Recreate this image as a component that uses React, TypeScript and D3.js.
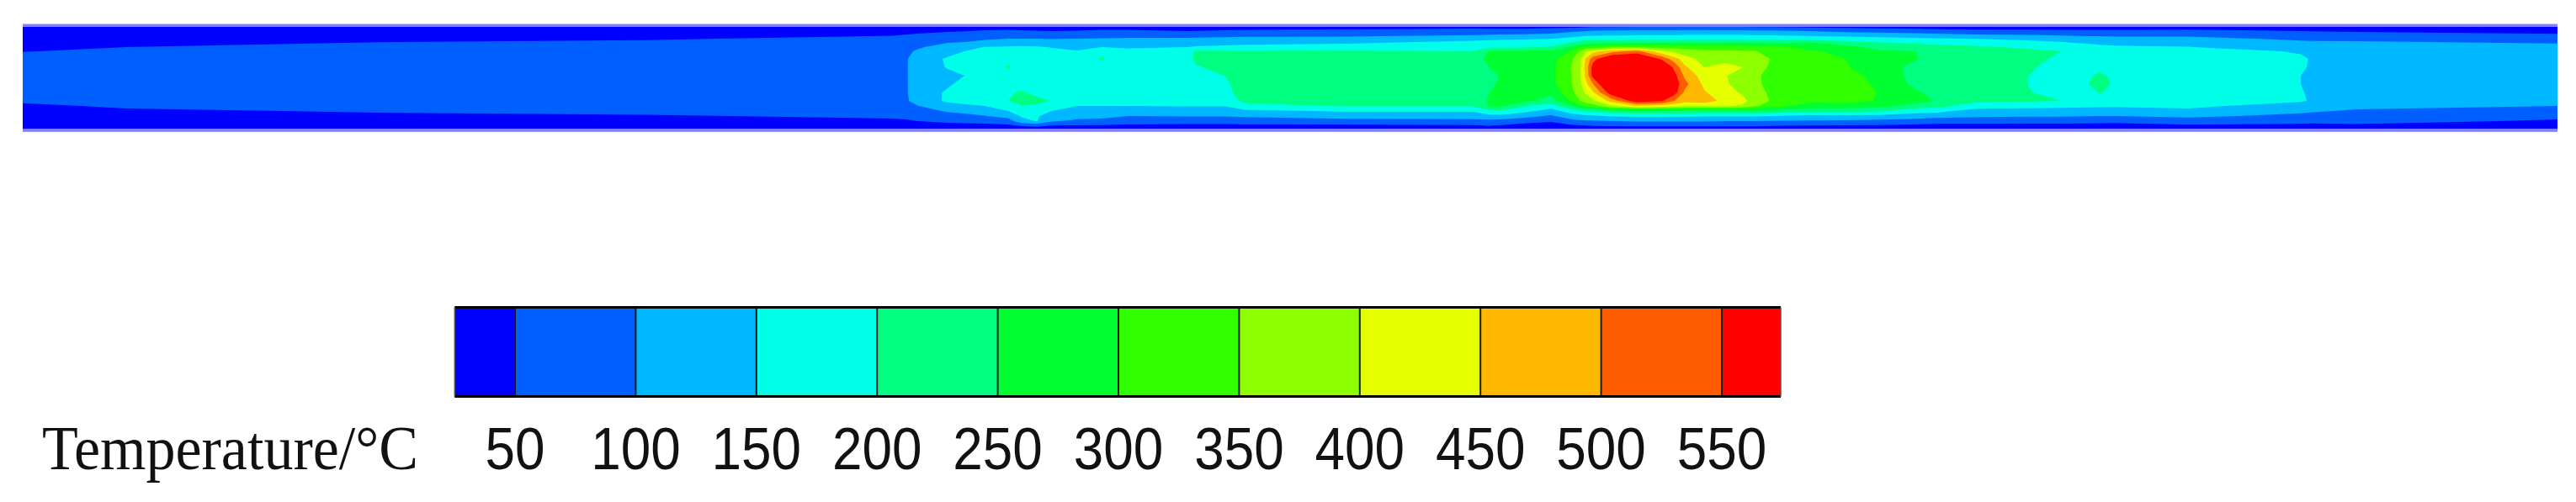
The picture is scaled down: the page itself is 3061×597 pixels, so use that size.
import React from "react";
import * as d3 from "d3";

const WIDTH = 3061;
const HEIGHT = 597;

const legendTitle = "Temperature/°C";
const levels = [50, 100, 150, 200, 250, 300, 350, 400, 450, 500, 550];
const bandColors = ["#0000ff", "#0060ff", "#00b8ff", "#00ffe8", "#00ff80", "#00ff30", "#30ff00", "#8cff00", "#e6ff00", "#ffb800", "#ff5c00", "#ff0000"];

// Axial stations (px along the pipe picture) and radial rows (px)
const stations = [27,150,450,770,1060,1078,1090,1126,1146,1170,1198,1214,1232,1250,1280,1309,1340,1412,1420,1456,1480,1600,1750,1770,1785,1810,1843,1868,1878,1885,1893,1915,1945,1975,1990,2002,2025,2050,2070,2085,2105,2150,2196,2233,2277,2301,2350,2409,2450,2480,2495,2514,2600,2734,2748,2800,3039];
const rows = [32,36,41,46,51,56,61,70,80,90,100,110,120,126,132,138,144,149,153];

// Temperature at each station, top wall to bottom wall
const temperatureColumns = [
  [15,18,22,26,30,38,48,75,75,75,75,75,58,40,30,25,20,18,15],
  [15,18,24,30,38,50,62,75,75,75,75,75,70,58,42,32,25,20,15],
  [15,20,28,38,52,62,70,75,75,75,75,75,75,70,55,40,30,22,15],
  [15,22,32,46,58,66,72,78,78,78,78,78,78,72,62,46,34,24,15],
  [18,28,46,60,72,78,85,90,92,92,92,88,82,76,68,58,42,28,15],
  [20,32,50,64,76,85,92,98,98,98,98,98,96,85,72,60,46,30,16],
  [22,36,54,68,82,92,106,125,130,130,130,128,118,98,80,64,50,32,17],
  [25,44,60,78,100,125,135,155,152,142,145,155,158,130,105,82,58,38,18],
  [28,46,62,82,105,128,150,160,165,150,160,165,168,140,112,88,60,40,20],
  [30,50,66,92,118,152,165,175,178,178,178,178,172,150,122,98,62,42,22],
  [32,52,70,100,125,155,170,185,205,180,185,195,200,185,150,118,75,44,24],
  [30,50,72,100,125,158,172,178,178,178,180,205,215,198,172,155,135,60,24],
  [28,48,70,100,125,155,170,176,178,178,178,190,210,195,172,155,152,70,24],
  [26,46,68,98,122,148,158,172,176,176,176,178,198,170,150,128,105,52,22],
  [26,48,72,100,125,142,152,175,178,178,178,178,172,150,130,118,90,50,20],
  [35,52,78,102,128,150,185,205,178,178,178,178,170,150,128,112,88,48,20],
  [32,52,78,105,130,148,155,178,178,178,178,178,172,150,125,100,72,44,20],
  [28,45,72,108,130,150,175,190,185,180,178,178,172,152,128,102,70,42,20],
  [28,46,74,108,132,154,204,206,196,180,178,178,172,152,128,102,70,42,20],
  [30,50,80,112,135,160,206,225,212,201,192,185,178,152,128,102,70,42,20],
  [32,52,82,115,138,165,205,225,225,225,225,225,210,185,140,108,72,44,20],
  [34,56,85,115,145,172,205,225,225,225,225,225,225,205,155,125,80,45,25],
  [38,62,95,135,165,185,201,225,240,240,240,235,215,205,155,125,85,48,25],
  [36,60,98,140,170,190,255,265,250,238,240,250,258,255,190,135,85,52,40],
  [36,60,100,142,172,192,258,275,270,255,260,270,275,258,192,135,80,48,35],
  [36,62,102,145,172,195,258,275,275,275,275,270,262,205,165,118,70,35,20],
  [38,70,108,148,178,205,262,280,285,285,285,260,230,175,130,92,55,28,15],
  [40,85,125,165,205,262,305,345,355,352,350,340,310,250,175,130,85,45,20],
  [42,90,132,172,222,300,360,395,400,400,395,380,350,290,190,135,90,50,22],
  [45,92,135,178,230,310,395,460,475,470,440,410,370,320,200,140,92,52,24],
  [46,95,138,180,235,320,430,530,575,570,500,445,390,330,205,142,95,55,25],
  [48,98,140,182,240,340,480,620,660,660,650,585,470,395,230,155,100,58,26],
  [50,100,142,185,248,345,520,630,690,690,690,670,585,450,240,160,105,60,28],
  [50,100,142,185,250,335,410,540,620,660,655,630,555,430,240,160,105,60,28],
  [50,100,142,185,250,330,385,470,535,565,580,570,500,420,240,160,105,60,30],
  [52,102,145,188,252,330,370,425,460,490,515,490,465,410,238,158,105,60,30],
  [52,102,145,188,250,325,360,380,400,425,440,455,475,405,235,155,105,60,30],
  [50,100,145,188,250,325,358,385,415,402,405,418,435,405,235,155,100,58,30],
  [50,100,145,186,250,322,355,385,401,385,385,395,415,395,235,155,100,58,30],
  [48,98,142,185,248,318,352,375,378,365,365,372,380,360,235,155,100,58,30],
  [48,98,142,185,245,315,340,348,340,325,330,340,345,320,235,150,98,55,30],
  [40,90,135,178,255,285,305,325,325,325,325,325,310,280,215,135,95,52,30],
  [36,78,128,170,225,265,290,298,302,320,325,325,315,280,215,135,92,50,28],
  [32,72,125,165,205,235,255,275,270,280,290,298,296,265,205,135,85,48,28],
  [30,65,115,158,195,220,250,252,238,235,238,256,262,232,170,125,78,42,26],
  [30,60,110,155,190,215,230,232,228,228,228,235,248,215,165,118,72,38,24],
  [28,55,100,148,178,208,225,225,225,225,225,225,208,175,128,108,70,40,22],
  [28,55,95,140,165,190,215,215,208,201,200,204,206,170,125,105,68,38,20],
  [27,54,90,130,155,175,200,190,178,175,175,178,200,165,125,105,68,38,20],
  [26,54,85,125,145,168,172,175,175,190,198,180,200,162,122,102,66,36,20],
  [26,54,85,122,142,160,170,175,180,212,215,204,178,160,122,100,64,35,20],
  [26,54,82,118,140,155,170,175,175,185,192,180,175,158,122,100,62,35,20],
  [25,55,85,115,138,151,175,178,178,178,178,178,175,160,140,108,80,45,20],
  [22,45,68,90,112,128,145,158,155,150,150,152,155,130,108,90,70,40,18],
  [22,45,66,90,108,122,135,145,145,145,145,145,145,125,105,85,65,38,18],
  [20,42,62,92,105,120,125,125,125,125,125,125,125,110,95,75,62,45,18],
  [20,38,52,78,98,110,125,125,125,125,125,125,125,100,92,60,45,30,18],
];

const colorbarMin = 25;
const colorbarMax = 574.4;

export default function App() {
  const nx = stations.length;
  const ny = rows.length;
  const flat: number[] = [];
  for (let j = 0; j < ny; j++) for (let i = 0; i < nx; i++) flat.push(temperatureColumns[i][j]);

  const gridX = d3.scaleLinear().domain(stations.map((_, i) => i)).range(stations).clamp(true);
  const gridY = d3.scaleLinear().domain(rows.map((_, i) => i)).range(rows).clamp(true);
  const project = d3.geoTransform({
    point(x: number, y: number) {
      (this as any).stream.point(gridX(x - 0.5), gridY(y - 0.5));
    },
  });
  const path = d3.geoPath(project);
  const bands = d3.contours().size([nx, ny]).smooth(true).thresholds(levels)(flat);
  const color = d3.scaleThreshold<number, string>().domain(levels).range(bandColors);

  const x0 = stations[0];
  const x1 = stations[nx - 1];
  const yTop = rows[0];
  const yBottom = rows[ny - 1];

  const barX = d3.scaleLinear().domain([50, 550]).range([612, 2046]);
  const barTop = 365.5;
  const barBottom = 471.5;
  const barEdges = [colorbarMin, ...levels, colorbarMax];

  return (
    <svg width={WIDTH} height={HEIGHT} viewBox={`0 0 ${WIDTH} ${HEIGHT}`} style={{ position: "absolute", left: 0, top: 0, background: "#fff" }}>
      <rect x={x0} y={yTop} width={x1 - x0} height={yBottom - yTop} fill={bandColors[0]} />
      {bands.map((b: any) => (
        <path key={b.value} d={path(b) || ""} fill={color(b.value)} />
      ))}
      <rect x={x0} y={yTop - 3.5} width={x1 - x0} height={3.5} fill="#8080ff" />
      <rect x={x0} y={yBottom} width={x1 - x0} height={3.8} fill="#8080ff" />

      {barEdges.slice(0, -1).map((v, i) => (
        <rect key={v} x={barX(v)} y={barTop} width={barX(barEdges[i + 1]) - barX(v)} height={barBottom - barTop} fill={bandColors[i]} />
      ))}
      {levels.map((v) => (
        <line key={v} x1={barX(v)} x2={barX(v)} y1={barTop} y2={barBottom} stroke="#1a1a1a" strokeWidth={2} />
      ))}
      <line x1={barX(colorbarMin)} x2={barX(colorbarMax)} y1={barTop} y2={barTop} stroke="#000" strokeWidth={3.2} />
      <line x1={barX(colorbarMin)} x2={barX(colorbarMax)} y1={barBottom} y2={barBottom} stroke="#000" strokeWidth={3.2} />
      <line x1={barX(colorbarMin)} x2={barX(colorbarMin)} y1={barTop} y2={barBottom} stroke="#555" strokeWidth={1.5} />
      <line x1={barX(colorbarMax)} x2={barX(colorbarMax)} y1={barTop} y2={barBottom} stroke="#555" strokeWidth={1.5} />

      {levels.map((v) => (
        <text
          key={v}
          x={barX(v)}
          y={558}
          textAnchor="middle"
          fontFamily="'Liberation Sans', Arial, sans-serif"
          fontSize={70}
          fill="#111"
          textLength={String(v).length * 35.5}
          lengthAdjust="spacingAndGlyphs"
        >
          {v}
        </text>
      ))}
      <text
        x={50}
        y={558}
        fontFamily="'Liberation Serif', 'Times New Roman', serif"
        fontSize={73}
        fill="#111"
        textLength={447}
        lengthAdjust="spacingAndGlyphs"
      >
        {legendTitle}
      </text>
    </svg>
  );
}
